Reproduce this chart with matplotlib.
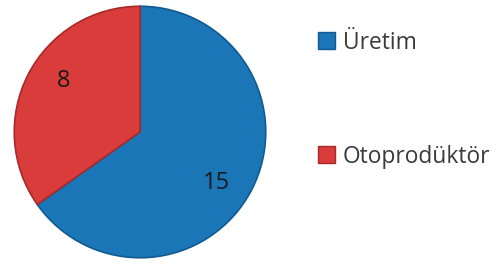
import matplotlib
matplotlib.use("Agg")
import matplotlib.pyplot as plt
from matplotlib.patches import Patch
import numpy as np

plt.rcParams['font.family'] = ['Open Sans', 'DejaVu Sans']

labels = ['Üretim', 'Otoprodüktör']
values = [15, 8]
colors = ['#1b76b8', '#d93c3a']
edges = ['#115a91', '#a82a28']

fig = plt.figure(figsize=(5, 2.64), dpi=100)
ax = fig.add_axes([13 / 500, 5 / 264, 254 / 500, 254 / 264])

wedges, texts, autotexts = ax.pie(
    values, colors=colors, startangle=90, counterclock=False,
    autopct=lambda p: '%d' % round(p * sum(values) / 100),
    pctdistance=0.73, radius=1,
    wedgeprops=dict(linewidth=1.2),
    textprops=dict(fontsize=17, color='#1a1a1a'))
for w, e in zip(wedges, edges):
    w.set_edgecolor(e)

# labels sit a bit clockwise from the slice middle, like the original
shift = np.deg2rad(-6.5)
for t in autotexts:
    x, y = t.get_position()
    t.set_position((x * np.cos(shift) - y * np.sin(shift),
                    x * np.sin(shift) + y * np.cos(shift)))

ax.set_xlim(-1.01, 1.01)
ax.set_ylim(-1.01, 1.01)
ax.set_aspect('equal')

handles = [Patch(facecolor=c, edgecolor=e) for c, e in zip(colors, edges)]
leg = fig.legend(handles, labels, loc='upper left', bbox_to_anchor=(0.594, 0.962),
                 frameon=False, fontsize=16.4, labelspacing=3.95,
                 handlelength=0.75, handleheight=0.75, handletextpad=0.35,
                 labelcolor='#3a3a3a')

fig.savefig('out.png', dpi=100)
